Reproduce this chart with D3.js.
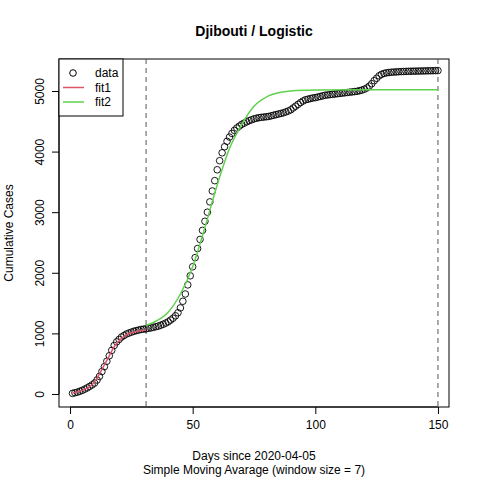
<!DOCTYPE html>
<html><head><meta charset="utf-8">
<script src="https://cdn.jsdelivr.net/npm/d3@7"></script>
<style>body{margin:0;background:#fff}svg{font-family:"Liberation Sans",Arial,sans-serif}</style>
</head><body><svg width="480" height="480"></svg>
<script>
// cumulative cases (7-day SMA), day 1..150
const cases = [
  10,20,30,45,60,80,100,125,150,180,
  230,290,370,450,540,630,720,800,860,900,
  940,965,990,1005,1020,1035,1045,1055,1065,1070,
  1075,1085,1090,1100,1110,1120,1135,1150,1170,1190,
  1220,1250,1290,1340,1420,1530,1650,1800,1950,2100,
  2250,2400,2550,2700,2850,3000,3170,3350,3520,3700,
  3850,3980,4080,4170,4240,4300,4350,4390,4420,4450,
  4470,4490,4510,4525,4540,4550,4560,4565,4570,4575,
  4580,4590,4600,4610,4620,4630,4640,4655,4670,4690,
  4720,4750,4780,4810,4835,4855,4865,4875,4885,4890,
  4900,4910,4920,4930,4935,4940,4945,4950,4955,4960,
  4965,4970,4975,4980,4985,4990,4995,5005,5015,5030,
  5050,5080,5120,5170,5210,5250,5275,5290,5300,5305,
  5310,5312,5315,5318,5320,5322,5323,5325,5326,5327,
  5328,5329,5330,5331,5332,5333,5334,5335,5336,5337
];
const fit1Days = [1,3,5,7,8,10,12,14,16,18,20,22,25,28,31];
const fit1Vals = [15,35,60,95,120,200,330,480,630,780,880,950,1010,1040,1055];
const fit2Days = [31,35,40,45,50,55,60,65,70,75,80,85,90,100,120,150];
const fit2Vals = [1130,1200,1350,1650,2100,2750,3450,4050,4450,4750,4900,4970,5000,5015,5020,5020];
const cutDays = [31,150];
const xTicks = [0,50,100,150];
const yTicks = [0,1000,2000,3000,4000,5000];

const svg = d3.select("svg");
const L = 59, R = 449, T = 59, B = 407;
const x = d3.scaleLinear().domain([-4.5, 154.5]).range([L, R]);
const y = d3.scaleLinear().domain([-215, 5528]).range([B, T]);

svg.append("rect").attr("x", L).attr("y", T).attr("width", R - L).attr("height", B - T)
  .attr("fill", "none").attr("stroke", "#000");

const xa = svg.append("g").attr("transform", `translate(0,${B})`)
  .call(d3.axisBottom(x).tickValues(xTicks).tickSize(7).tickPadding(6));
const ya = svg.append("g").attr("transform", `translate(${L},0)`)
  .call(d3.axisLeft(y).tickValues(yTicks).tickSize(7).tickPadding(4).tickFormat(d3.format("d")));
[xa, ya].forEach(a => {
  a.select(".domain").remove();
  a.selectAll("text").attr("font-size", 12).attr("fill", "#000").attr("font-family", "Liberation Sans, Arial");
});
// R-style axis lines spanning first to last tick
svg.append("line").attr("x1", x(0)).attr("x2", x(150)).attr("y1", B).attr("y2", B).attr("stroke", "#000");
svg.append("line").attr("x1", L).attr("x2", L).attr("y1", y(0)).attr("y2", y(5000)).attr("stroke", "#000");
ya.selectAll(".tick text").attr("text-anchor", "middle").attr("x", 0).attr("y", 0).attr("dy", 0)
  .attr("transform", "translate(-15,0) rotate(-90)");

svg.selectAll(".cut").data(cutDays).join("line")
  .attr("x1", d => x(d)).attr("x2", d => x(d)).attr("y1", T).attr("y2", B)
  .attr("stroke", "#555").attr("stroke-dasharray", "5,4");

svg.append("g").selectAll("circle").data(cases).join("circle")
  .attr("cx", (d, i) => x(i + 1)).attr("cy", d => y(d)).attr("r", 3.3)
  .attr("fill", "none").attr("stroke", "#000").attr("stroke-width", 0.9);

const line = d3.line().x(d => x(d[0])).y(d => y(d[1])).curve(d3.curveMonotoneX);
svg.append("path").datum(fit1Days.map((d, i) => [d, fit1Vals[i]])).attr("d", line)
  .attr("fill", "none").attr("stroke", "#DF536B").attr("stroke-width", 1.5);
svg.append("path").datum(fit2Days.map((d, i) => [d, fit2Vals[i]])).attr("d", line)
  .attr("fill", "none").attr("stroke", "#61D04F").attr("stroke-width", 1.5);

// legend
const lg = svg.append("g");
lg.append("rect").attr("x", L).attr("y", T).attr("width", 64).attr("height", 57)
  .attr("fill", "#fff").attr("stroke", "#000");
const items = [["data", "pt"], ["fit1", "#DF536B"], ["fit2", "#61D04F"]];
items.forEach((it, i) => {
  const cy = T + 14 + i * 14.5;
  if (it[1] === "pt") lg.append("circle").attr("cx", L + 14).attr("cy", cy).attr("r", 3.3)
    .attr("fill", "none").attr("stroke", "#000");
  else lg.append("line").attr("x1", L + 4).attr("x2", L + 25).attr("y1", cy).attr("y2", cy)
    .attr("stroke", it[1]).attr("stroke-width", 1.5);
  lg.append("text").attr("x", L + 36).attr("y", cy + 4).attr("font-size", 12).text(it[0]);
});

svg.append("text").attr("x", (L + R) / 2).attr("y", 36).attr("text-anchor", "middle")
  .attr("font-size", 14).attr("font-weight", "bold").text("Djibouti / Logistic");
svg.append("text").attr("x", (L + R) / 2).attr("y", 460).attr("text-anchor", "middle")
  .attr("font-size", 12).text("Days since 2020-04-05");
svg.append("text").attr("x", (L + R) / 2).attr("y", 474).attr("text-anchor", "middle")
  .attr("font-size", 12).text("Simple Moving Avarage (window size = 7)");
svg.append("text").attr("transform", `translate(13,${(T + B) / 2}) rotate(-90)`)
  .attr("text-anchor", "middle").attr("font-size", 12).text("Cumulative Cases");
</script></body></html>
